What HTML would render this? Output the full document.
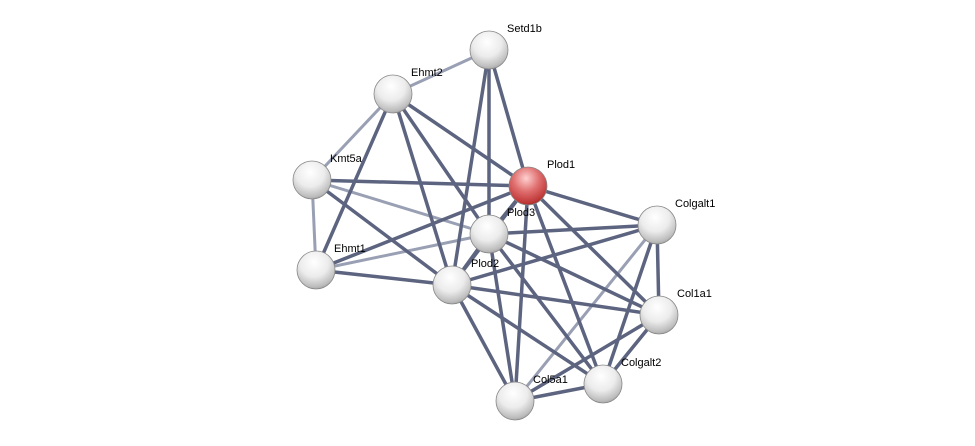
<!DOCTYPE html>
<html><head><meta charset="utf-8"><style>
html,body{margin:0;padding:0;background:#fff;}
svg{display:block}
text{font-family:"Liberation Sans",sans-serif;font-size:11px;fill:#000}
</style></head><body>
<svg width="975" height="446" viewBox="0 0 975 446">
<defs>
<radialGradient id="g" cx="0.45" cy="0.3" r="0.75">
<stop offset="0" stop-color="#ffffff"/><stop offset="0.5" stop-color="#ececec"/><stop offset="0.85" stop-color="#bdbdbd"/><stop offset="1" stop-color="#9a9a9a"/></radialGradient>
<radialGradient id="r" cx="0.45" cy="0.3" r="0.75">
<stop offset="0" stop-color="#ffd0d0"/><stop offset="0.45" stop-color="#e07070"/><stop offset="0.85" stop-color="#c03838"/><stop offset="1" stop-color="#902020"/></radialGradient>
</defs>
<g stroke-linecap="round">
<g stroke="#9aa0b4" stroke-width="3">
<line x1="489" y1="50" x2="393" y2="94"/>
<line x1="393" y1="94" x2="312" y2="180"/>
<line x1="312" y1="180" x2="316" y2="270"/>
<line x1="312" y1="180" x2="489" y2="234"/>
<line x1="316" y1="270" x2="489" y2="234"/>
<line x1="657" y1="225" x2="515" y2="401"/>
</g>
<g stroke="#5d6480" stroke-width="3.5">
<line x1="489" y1="50" x2="489" y2="234"/>
<line x1="489" y1="50" x2="452" y2="285"/>
<line x1="489" y1="50" x2="528" y2="186"/>
<line x1="393" y1="94" x2="316" y2="270"/>
<line x1="393" y1="94" x2="528" y2="186"/>
<line x1="393" y1="94" x2="489" y2="234"/>
<line x1="393" y1="94" x2="452" y2="285"/>
<line x1="312" y1="180" x2="528" y2="186"/>
<line x1="312" y1="180" x2="452" y2="285"/>
<line x1="316" y1="270" x2="528" y2="186"/>
<line x1="316" y1="270" x2="452" y2="285"/>
<line x1="528" y1="186" x2="489" y2="234"/>
<line x1="528" y1="186" x2="452" y2="285"/>
<line x1="528" y1="186" x2="657" y2="225"/>
<line x1="528" y1="186" x2="659" y2="315"/>
<line x1="528" y1="186" x2="603" y2="384"/>
<line x1="528" y1="186" x2="515" y2="401"/>
<line x1="489" y1="234" x2="657" y2="225"/>
<line x1="489" y1="234" x2="659" y2="315"/>
<line x1="489" y1="234" x2="603" y2="384"/>
<line x1="489" y1="234" x2="515" y2="401"/>
<line x1="489" y1="234" x2="452" y2="285"/>
<line x1="452" y1="285" x2="657" y2="225"/>
<line x1="452" y1="285" x2="659" y2="315"/>
<line x1="452" y1="285" x2="603" y2="384"/>
<line x1="452" y1="285" x2="515" y2="401"/>
<line x1="657" y1="225" x2="659" y2="315"/>
<line x1="657" y1="225" x2="603" y2="384"/>
<line x1="659" y1="315" x2="603" y2="384"/>
<line x1="659" y1="315" x2="515" y2="401"/>
<line x1="603" y1="384" x2="515" y2="401"/>
</g>
</g>
<g stroke="#888" stroke-width="0.8">
<circle cx="489" cy="50" r="19" fill="url(#g)"/>
<circle cx="393" cy="94" r="19" fill="url(#g)"/>
<circle cx="312" cy="180" r="19" fill="url(#g)"/>
<circle cx="528" cy="186" r="19" fill="url(#r)"/>
<circle cx="489" cy="234" r="19" fill="url(#g)"/>
<circle cx="657" cy="225" r="19" fill="url(#g)"/>
<circle cx="316" cy="270" r="19" fill="url(#g)"/>
<circle cx="452" cy="285" r="19" fill="url(#g)"/>
<circle cx="659" cy="315" r="19" fill="url(#g)"/>
<circle cx="603" cy="384" r="19" fill="url(#g)"/>
<circle cx="515" cy="401" r="19" fill="url(#g)"/>
</g>
<text x="507" y="32">Setd1b</text>
<text x="411" y="76">Ehmt2</text>
<text x="330" y="162">Kmt5a</text>
<text x="547" y="168">Plod1</text>
<text x="507" y="216">Plod3</text>
<text x="675" y="207">Colgalt1</text>
<text x="334" y="252">Ehmt1</text>
<text x="471" y="267">Plod2</text>
<text x="677" y="297">Col1a1</text>
<text x="621" y="366">Colgalt2</text>
<text x="533" y="383">Col5a1</text>
</svg>
</body></html>
